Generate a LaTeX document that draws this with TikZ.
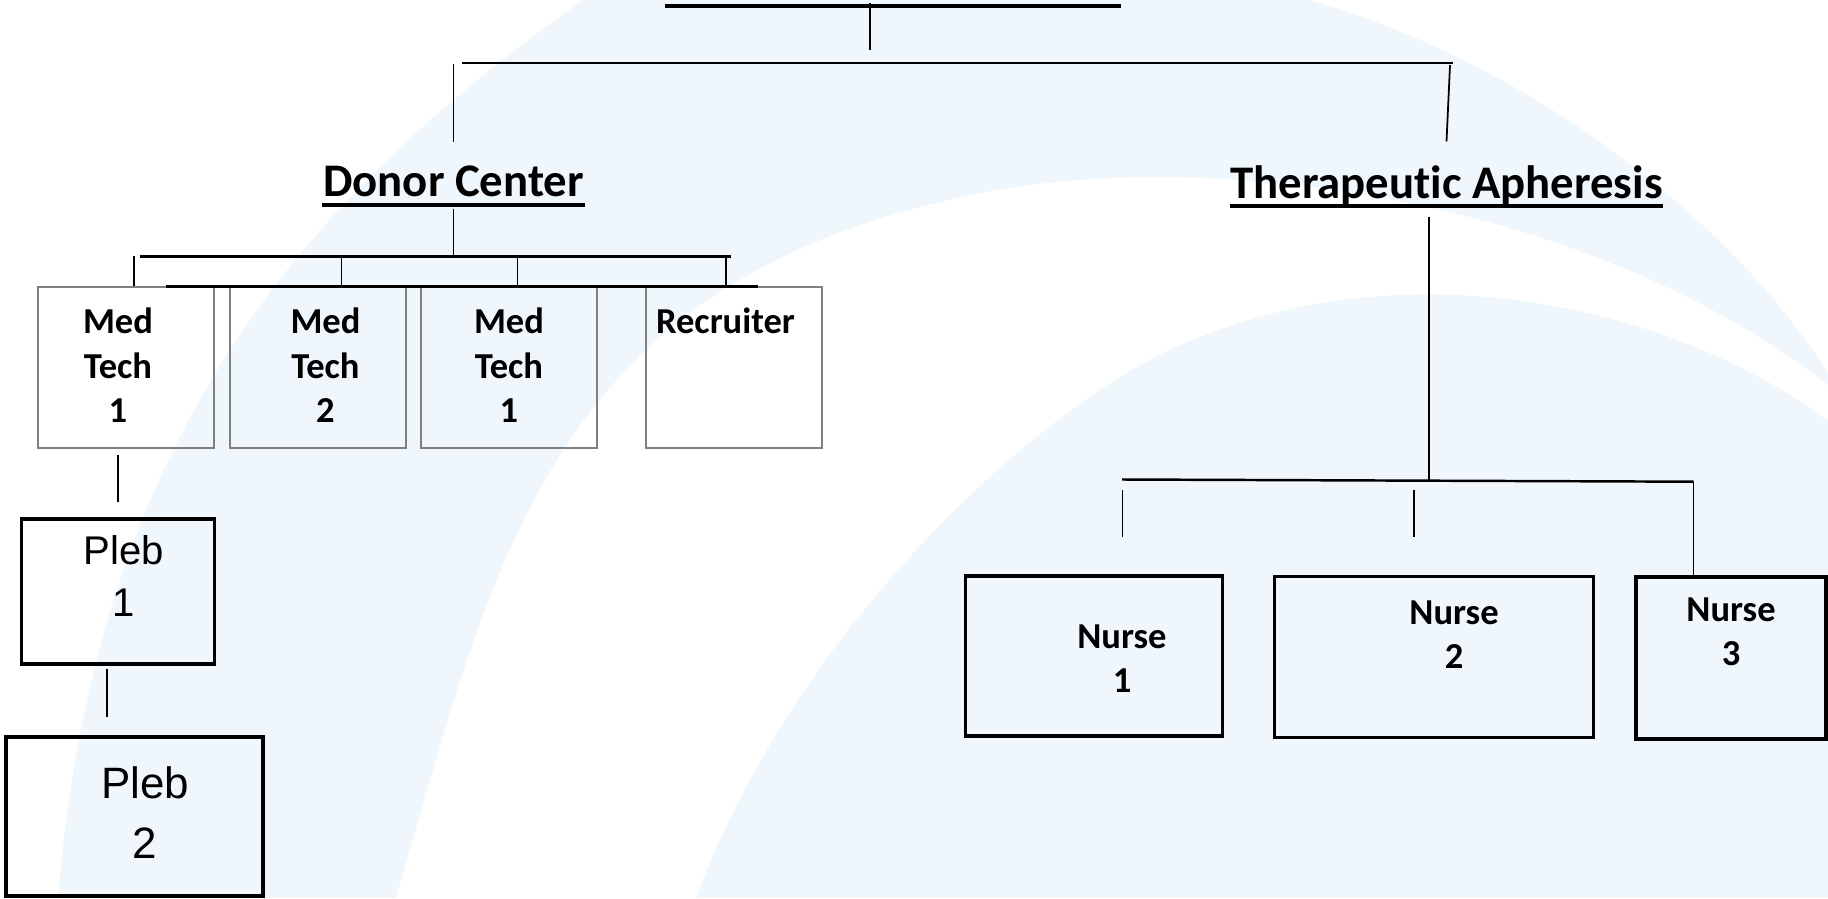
\documentclass[tikz,border=0pt]{standalone}
\usepackage{fontspec}
\newfontfamily\carlito{Carlito}[Ligatures=NoCommon]
\newfontfamily\arialfont{Liberation Sans}
\usetikzlibrary{positioning, calc}

\definecolor{paleblue}{RGB}{240,247,252}
\definecolor{boxgray}{RGB}{128,128,128}

\tikzset{
    orgbox/.style n args={4}{rectangle, inner sep=0pt, minimum width=#1, minimum height=#2,
        execute at begin node={\begin{minipage}[c][#2][t]{#1}\centering\leftskip=#4 plus 1fil\parindent=0pt\vspace*{#3}},
        execute at end node={\end{minipage}}}
}

\begin{document}
\begin{tikzpicture}[
    heading/.style={font=\carlito\bfseries\fontsize{13.3}{16}\selectfont, inner sep=0pt, text depth=0pt, anchor=base},
    medbox/.style={draw=boxgray, line width=0.45pt, font=\carlito\bfseries\fontsize{10.4}{12.7}\selectfont},
    nursebox/.style={draw=black, line width=1pt, font=\carlito\bfseries\fontsize{10.4}{12.5}\selectfont},
    plebbox/.style={draw=black, line width=0.9pt, font=\arialfont\fontsize{11.4}{14.8}\selectfont},
    conn/.style={line width=0.5pt},
    bus/.style={line width=0.7pt},
    uline/.style={line width=1pt}
]

    % Background swooshes
    \useasboundingbox (0,0) rectangle (18.28,-8.98);
    \fill[paleblue] (0,0) rectangle (18.28,-8.98);
    \fill[white] (0,0) -- (5.83,0) .. controls (3.0,-2.0) and (0.95,-4.4) .. (0.58,-8.98) -- (0,-8.98) -- cycle;
    \fill[white] (3.96,-8.98) .. controls (4.9,-5.8) and (5.4,-3.0) .. (9.33,-2.04)
        .. controls (11.66,-1.40) and (15.74,-1.87) .. (18.28,-3.85) -- (18.28,-4.21)
        .. controls (16.55,-2.91) and (13.41,-2.33) .. (11.07,-3.85)
        .. controls (9.33,-5.01) and (7.69,-6.99) .. (6.96,-8.98) -- cycle;
    \fill[white] (13.09,0) .. controls (15.16,-0.58) and (17.25,-2.10) .. (18.28,-3.73) -- (18.28,0) -- cycle;

    % Title (its text runs off the top edge)
    \coordinate (title) at (8.93,-0.06);
    \draw[line width=1.15pt] ([xshift=-2.28cm]title) -- ([xshift=2.28cm]title);
    \draw[conn] ([xshift=-0.23cm,yshift=0.03cm]title) -- ++(0,-0.475);

    % Top bus
    \coordinate (busL) at (4.62,-0.63);
    \coordinate (busR) at (14.53,-0.63);
    \draw[bus] (busL) -- (busR);

    % Department heads
    \node[heading] (donor) at (4.535,-1.97) {Donor Center};
    \node[heading] (therapy) at (14.465,-1.98) {Therapeutic Apheresis};
    \draw[uline] ([yshift=-0.075cm]donor.south west) -- ([yshift=-0.075cm]donor.south east);
    \draw[uline] ([yshift=-0.075cm]therapy.south west) -- ([yshift=-0.075cm]therapy.south east);
    \draw[conn] ([yshift=0.24cm]donor.north) -- ++(0,0.78);
    \draw[conn] ([yshift=0.23cm]therapy.north) -- ([xshift=-0.03cm,yshift=-0.02cm]busR);

    % Donor center staff
    \node[medbox, orgbox={1.76cm}{1.61cm}{0.21cm}{-0.16cm}] (medA) at (1.26,-3.675) {Med\\Tech\\1};
    \node[medbox, orgbox={1.76cm}{1.61cm}{0.21cm}{0.15cm}] (medB) at (3.18,-3.675) {Med\\Tech\\2};
    \node[medbox, orgbox={1.76cm}{1.61cm}{0.21cm}{0cm}] (medC) at (5.09,-3.675) {Med\\Tech\\1};
    \node[medbox, orgbox={1.76cm}{1.61cm}{0.21cm}{-0.17cm}] (recruiter) at (7.34,-3.675) {Recruiter};

    \coordinate (dbusL) at (1.40,-2.565);
    \coordinate (dbusR) at (7.31,-2.565);
    \draw[conn] ([yshift=-0.11cm]donor.south) -- ++(0,-0.48);
    \draw[bus] (dbusL) -- (dbusR);
    \draw[line width=0.85pt] ([xshift=0.40cm]medA.north) -- ([xshift=0.24cm]recruiter.north);
    \foreach \b/\dx in {medA/0.08, medB/0.235, medC/0.085, recruiter/-0.08}
        \draw[conn] ([xshift=\dx cm]\b.north) -- ++(0,0.305);

    % Plebs
    \node[plebbox, orgbox={1.93cm}{1.45cm}{0.16cm}{0.12cm}] (plebA) at (1.18,-5.915) {Pleb\\1};
    \node[plebbox, font=\arialfont\fontsize{12.5}{17.1}\selectfont, orgbox={2.57cm}{1.59cm}{0.30cm}{0.21cm}] (plebB) at (1.345,-8.165) {Pleb\\2};
    \draw[conn] ([yshift=0.15cm]plebA.north) -- ++(0,0.47);
    \draw[conn] ([xshift=-0.11cm,yshift=-0.03cm]plebA.south) -- ++(0,-0.48);

    % Apheresis nurses
    \node[nursebox, orgbox={2.57cm}{1.60cm}{0.49cm}{0.56cm}] (nurseA) at (10.94,-6.56) {Nurse\\1};
    \node[nursebox, orgbox={3.19cm}{1.61cm}{0.24cm}{0.40cm}] (nurseB) at (14.34,-6.57) {Nurse\\2};
    \node[nursebox, orgbox={1.90cm}{1.62cm}{0.21cm}{0cm}] (nurseC) at (17.31,-6.58) {Nurse\\3};

    \coordinate (nbusL) at (11.22,-4.795);
    \coordinate (nbusR) at (16.935,-4.817);
    \draw[conn] ([xshift=-0.175cm,yshift=-0.18cm]therapy.south) -- ++(0,-2.64);
    \draw[bus] (nbusL) -- (nbusR);
    \draw[conn] ([xshift=0.285cm,yshift=0.37cm]nurseA.north) -- ++(0,0.47);
    \draw[conn] ([xshift=-0.204cm,yshift=0.38cm]nurseB.north) -- ++(0,0.47);
    \draw[conn] (nbusR) -- (nbusR |- nurseC.north);

\end{tikzpicture}
\end{document}
